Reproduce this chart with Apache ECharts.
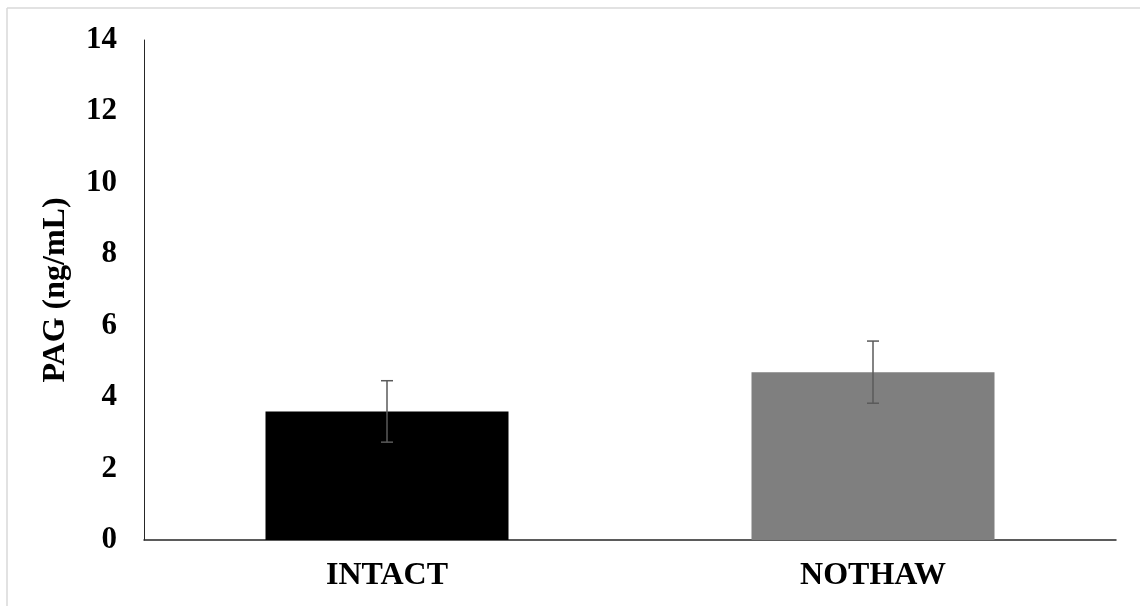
<!DOCTYPE html>
<html>
<head>
<meta charset="utf-8">
<script src="https://cdn.jsdelivr.net/npm/echarts@6/dist/echarts.min.js"></script>
<style>
html,body{margin:0;padding:0;background:#fff;}
#chart{width:1140px;height:606px;}
</style>
</head>
<body>
<div id="chart"></div>
<script>
var categories = ['INTACT', 'NOTHAW'];
var means = [3.6, 4.7];
var errors = [0.86, 0.87];
var barColors = ['#000000', '#7f7f7f'];
var yAxisName = 'PAG (ng/mL)';
var yMin = 0, yMax = 14, yStep = 2;

var FONT = "'Liberation Serif', 'Times New Roman', serif";
var chart = echarts.init(document.getElementById('chart'), null, {renderer: 'canvas'});

var errData = means.map(function (m, i) { return [i, m, errors[i]]; });

chart.setOption({
  animation: false,
  backgroundColor: '#ffffff',
  grid: {left: 144, right: 24, top: 40, bottom: 66, containLabel: false},
  graphic: [
    {type: 'line', shape: {x1: 7, y1: 8, x2: 1140, y2: 8}, style: {stroke: '#d9d9d9', lineWidth: 1.5}, silent: true},
    {type: 'line', shape: {x1: 7, y1: 8, x2: 7, y2: 606}, style: {stroke: '#d9d9d9', lineWidth: 1.5}, silent: true}
  ],
  xAxis: {
    type: 'category',
    data: categories,
    boundaryGap: true,
    axisLine: {show: true, lineStyle: {color: '#262626', width: 1.5}},
    axisTick: {show: false},
    axisLabel: {color: '#000', fontFamily: FONT, fontWeight: 'bold', fontSize: 32, margin: 20},
    splitLine: {show: false}
  },
  yAxis: {
    type: 'value',
    min: yMin, max: yMax, interval: yStep,
    name: yAxisName,
    nameLocation: 'middle',
    nameGap: 72,
    nameRotate: 90,
    nameTextStyle: {color: '#000', fontFamily: FONT, fontWeight: 'bold', fontSize: 32},
    axisLine: {show: true, lineStyle: {color: '#262626', width: 1}},
    axisTick: {show: false},
    axisLabel: {color: '#000', fontFamily: FONT, fontWeight: 'bold', fontSize: 31, margin: 27},
    splitLine: {show: false}
  },
  series: [
    {
      type: 'bar',
      barWidth: '50%',
      data: means.map(function (v, i) { return {value: v, itemStyle: {color: barColors[i]}}; }),
      z: 2
    },
    {
      type: 'custom',
      z: 5,
      data: errData,
      renderItem: function (params, api) {
        var x = api.value(0), m = api.value(1), e = api.value(2);
        var top = api.coord([x, m + e]);
        var bot = api.coord([x, m - e]);
        var hw = 6;
        var st = {stroke: '#5a5a5a', lineWidth: 1.5};
        return {
          type: 'group',
          children: [
            {type: 'line', shape: {x1: top[0], y1: top[1], x2: bot[0], y2: bot[1]}, style: st},
            {type: 'line', shape: {x1: top[0] - hw, y1: top[1], x2: top[0] + hw, y2: top[1]}, style: st},
            {type: 'line', shape: {x1: bot[0] - hw, y1: bot[1], x2: bot[0] + hw, y2: bot[1]}, style: st}
          ]
        };
      }
    }
  ]
});
</script>
</body>
</html>
